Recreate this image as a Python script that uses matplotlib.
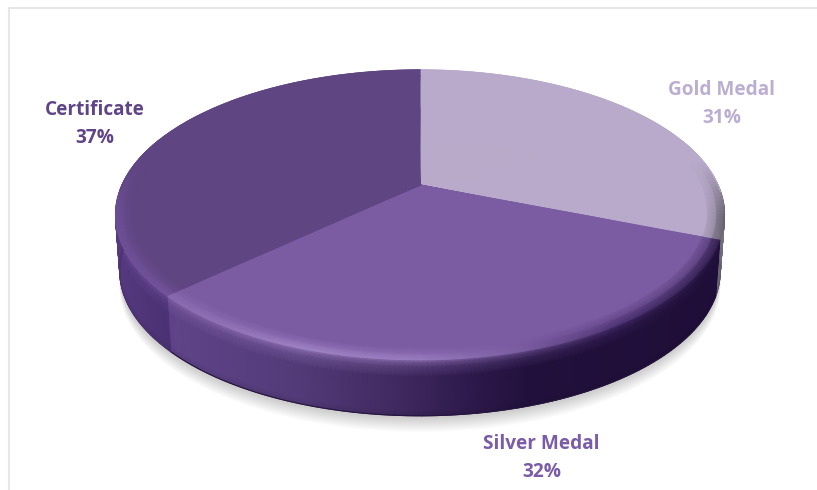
import numpy as np
import matplotlib
matplotlib.use("Agg")
import matplotlib.pyplot as plt
from matplotlib.colors import to_rgb

categories = ["Gold Medal", "Silver Medal", "Certificate"]
shares = [31, 32, 37]
top_colors = ["#b9aacb", "#7b5ba2", "#5f4581"]
label_colors = ["#bcaed0", "#7b5ca8", "#5f4488"]
label_pos = [(722, 104), (541.5, 458), (95, 124)]

# perspective disc
CX, CY, RX, RY, K, DEPTH, TAPER = 420, 185, 298, 138.8, 0.206, 56, 0.014

def project(theta, r=1.0):
    u, v = r * np.sin(theta), r * np.cos(theta)
    w = 1 + K * v
    return CX + RX * u / w, CY - RY * v / w

def mix(a, b, f):
    return a * (1 - f) + b * f

def stops(x, xs, cols):
    arr = np.array([to_rgb(c) for c in cols])
    return np.stack([np.interp(x, xs, arr[:, i]) for i in range(3)], axis=-1)

def side_base(i, x):
    if i == 0:
        return stops(x, [700, 725], ["#3a3048", "#77727f"])
    if i == 1:
        return stops(x, [165, 175, 300, 400, 470, 530, 720],
                     ["#5d4189", "#5f4488", "#523a78", "#40295f", "#2e1a4c", "#22103c", "#1f0e38"])
    return stops(x, [115, 165], ["#56397f", "#4b3274"])

def rim_light(i, x):
    if i == 0:
        return stops(x, [700, 725], ["#8d8499", "#5f5b66"])
    if i == 1:
        return stops(x, [165, 300, 420, 520, 620, 720],
                     ["#8a6ab0", "#a184c6", "#9a7dc0", "#7a5da0", "#4a3070", "#2c1a48"])
    return stops(x, [115, 165], ["#6f509a", "#76559f"])

fig = plt.figure(figsize=(8.17, 4.9), dpi=100, facecolor="white")
ax = fig.add_axes([0, 0, 1, 1])
ax.set_xlim(0, 817)
ax.set_ylim(490, 0)
ax.axis("off")

ax.plot([9, 9, 817], [490, 8, 8], color="#e6e1e2", lw=1.2, solid_joinstyle="miter")

# soft shadow under the disc
full = np.linspace(0, 2 * np.pi, 361)
sx, sy = project(full)
for off in range(1, 19):
    ax.fill(CX + (sx - CX) * (1 - TAPER), sy + DEPTH + off * 0.9, color="#55524f", alpha=0.016, lw=0)

edges = np.cumsum([0] + shares) / sum(shares) * 2 * np.pi

# side wall
t = np.array([0, 0.05, 0.12, 0.3, 0.9, 1.0])
for i in range(len(shares)):
    th = np.linspace(edges[i], edges[i + 1], 160)
    th = th[np.cos(th) < 0.35]
    X0, Y0 = project(th)
    X = CX + np.outer(1 - TAPER * t, X0 - CX)
    Y = np.outer(np.ones_like(t), Y0) + np.outer(t, np.full_like(th, DEPTH))
    base = side_base(i, X0)
    light = rim_light(i, X0)
    C = np.zeros(X.shape + (3,))
    for j, tj in enumerate(t):
        f = np.clip(1 - tj / 0.3, 0, 1) ** 2 * 0.75
        dark = 1 - 0.10 * max(0, tj - 0.9) / 0.1
        C[j] = mix(base, light, f) * dark
    ax.pcolormesh(X, Y, C, shading="gouraud", zorder=2)
    ax.plot(X[-1], Y[-1], color=tuple(C[-1][len(th) // 2]), lw=0.8, zorder=2)

# top face with a bevel near the rim
radii = np.array([0, 0.6, 0.945, 0.975, 1.0])
for i, name in enumerate(categories):
    th = np.linspace(edges[i], edges[i + 1], 200)
    top = np.array(to_rgb(top_colors[i]))
    X = np.array([project(th, r)[0] for r in radii])
    Y = np.array([project(th, r)[1] for r in radii])
    C = np.zeros(X.shape + (3,))
    front = np.clip(-np.cos(th) * 2.5 + 0.45, 0, 1)[:, None]
    light = rim_light(i, X[-1])
    for j, r in enumerate(radii):
        f = np.clip((r - 0.945) / 0.055, 0, 1)
        col = mix(top, light, front)
        C[j] = mix(np.tile(top, (len(th), 1)), col, f * (0.9 if r < 1 else 1.0))
    ax.pcolormesh(X, Y, C, shading="gouraud", zorder=3)
    # antialiased edge on the back half only; the front rim melts into the wall
    back = np.cos(th) > -0.05
    ex, ey = project(th[back])
    ax.plot(ex, ey, color=tuple(top), lw=0.8, zorder=3)

for name, val, col, (lx, ly) in zip(categories, shares, label_colors, label_pos):
    ax.text(lx, ly, f"{name}\n{val}%", color=col, fontsize=13.7, fontweight="bold",
            family="Open Sans", ha="center", va="center", linespacing=1.5, zorder=5)

fig.savefig("out.png", dpi=100, facecolor="white")
